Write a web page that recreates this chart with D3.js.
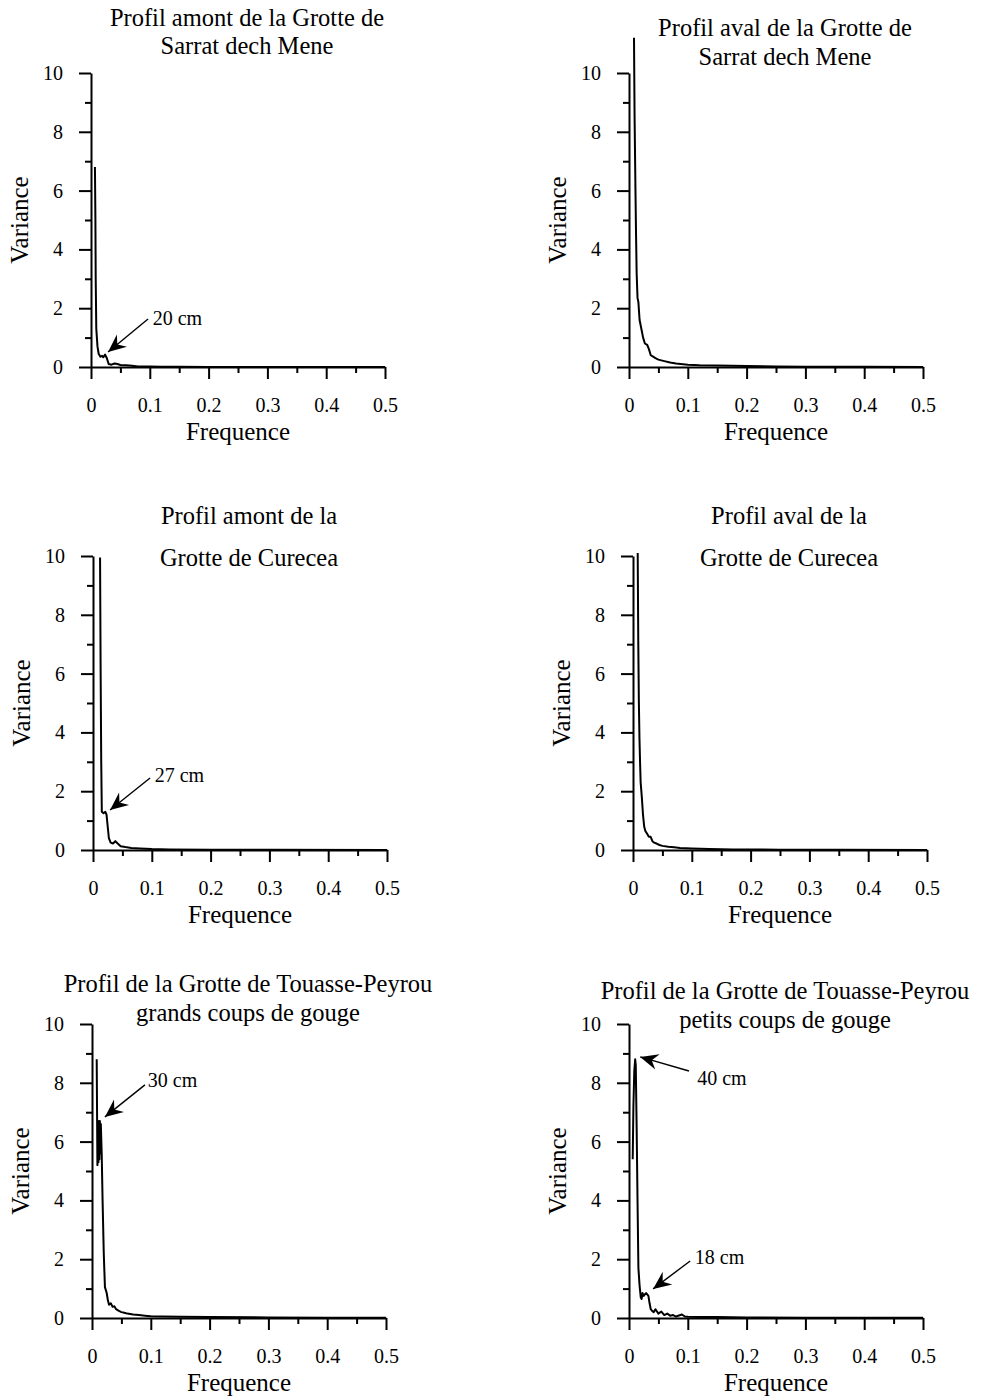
<!DOCTYPE html>
<html>
<head>
<meta charset="utf-8">
<script src="https://cdn.jsdelivr.net/npm/d3@7"></script>
<style>
  body { margin: 0; background: #fff; }
  svg text { font-family: "Liberation Serif", "Times New Roman", serif; fill: #000; }
</style>
</head>
<body>
<svg id="chart" width="992" height="1396"></svg>
<script>
// donnees : [frequence, variance]
const amontSarrat = [[0.0067, 6.8], [0.0075, 5.0], [0.008, 3.0], [0.009, 1.3], [0.011, 0.7], [0.013, 0.45],
  [0.016, 0.35], [0.019, 0.38], [0.021, 0.33], [0.024, 0.42], [0.027, 0.3], [0.030, 0.1], [0.035, 0.08],
  [0.04, 0.12], [0.045, 0.1], [0.05, 0.07], [0.06, 0.06], [0.07, 0.04], [0.08, 0.02], [0.1, 0.015],
  [0.12, 0.01], [0.15, 0.006], [0.2, 0.004], [0.3, 0.002], [0.4, 0.001], [0.5, 0.001]];

const avalSarrat = [[0.0085, 11.2], [0.0095, 8.5], [0.011, 6.0], [0.012, 4.5], [0.013, 3.2], [0.0145, 2.35],
  [0.016, 2.2], [0.018, 1.6], [0.021, 1.3], [0.024, 1.0], [0.027, 0.8], [0.031, 0.75], [0.034, 0.6],
  [0.037, 0.4], [0.041, 0.35], [0.045, 0.3], [0.05, 0.25], [0.06, 0.2], [0.07, 0.15], [0.08, 0.12],
  [0.1, 0.08], [0.12, 0.06], [0.15, 0.05], [0.2, 0.03], [0.25, 0.02], [0.3, 0.01], [0.4, 0.005], [0.5, 0.003]];

const amontCurecea = [[0.012, 9.95], [0.013, 6.0], [0.014, 3.0], [0.015, 1.3], [0.018, 1.25], [0.021, 1.3],
  [0.023, 1.2], [0.025, 0.8], [0.027, 0.4], [0.03, 0.25], [0.034, 0.22], [0.038, 0.3], [0.042, 0.22],
  [0.047, 0.13], [0.055, 0.1], [0.065, 0.07], [0.08, 0.05], [0.1, 0.03], [0.13, 0.02], [0.2, 0.01],
  [0.3, 0.005], [0.5, 0.002]];

const avalCurecea = [[0.008, 10.1], [0.009, 7.0], [0.01, 5.0], [0.011, 3.8], [0.012, 3.0], [0.013, 2.3],
  [0.015, 1.8], [0.017, 1.2], [0.019, 0.8], [0.021, 0.65], [0.024, 0.55], [0.027, 0.45], [0.03, 0.45],
  [0.033, 0.3], [0.036, 0.25], [0.04, 0.22], [0.045, 0.17], [0.05, 0.14], [0.06, 0.11], [0.07, 0.09],
  [0.08, 0.07], [0.1, 0.05], [0.13, 0.03], [0.17, 0.02], [0.25, 0.01], [0.35, 0.005], [0.5, 0.003]];

const touasseGrands = [[0.008, 8.8], [0.0092, 5.2], [0.0102, 6.7], [0.011, 5.3], [0.0118, 6.7], [0.0126, 5.4],
  [0.0134, 6.7], [0.0142, 5.6], [0.015, 6.6], [0.0165, 5.6], [0.018, 4.0], [0.02, 2.2],
  [0.022, 1.05], [0.025, 0.85], [0.027, 0.6], [0.029, 0.45], [0.032, 0.5], [0.035, 0.38], [0.038, 0.4],
  [0.041, 0.3], [0.045, 0.25], [0.05, 0.2], [0.055, 0.18], [0.06, 0.15], [0.07, 0.12], [0.08, 0.1],
  [0.09, 0.08], [0.1, 0.06], [0.12, 0.05], [0.15, 0.04], [0.2, 0.03], [0.3, 0.02], [0.4, 0.01], [0.5, 0.01]];

const touassePetits = [[0.0063, 5.4], [0.0075, 7.2], [0.009, 8.4], [0.0105, 8.8], [0.0115, 8.6], [0.013, 6.5],
  [0.0145, 4.0], [0.016, 1.7], [0.018, 1.1], [0.02, 0.7], [0.0215, 0.65], [0.023, 0.85], [0.025, 0.75],
  [0.027, 0.8], [0.029, 0.85], [0.031, 0.8], [0.033, 0.75], [0.035, 0.5], [0.037, 0.3], [0.039, 0.25],
  [0.042, 0.2], [0.045, 0.3], [0.05, 0.15], [0.055, 0.22], [0.06, 0.1], [0.065, 0.15], [0.07, 0.08],
  [0.075, 0.1], [0.08, 0.05], [0.09, 0.12], [0.095, 0.05], [0.1, 0.04], [0.12, 0.03], [0.15, 0.03],
  [0.2, 0.02], [0.3, 0.01], [0.5, 0.01]];

const titres = [
  ["Profil amont de la Grotte de", "Sarrat dech Mene"],
  ["Profil aval de la Grotte de", "Sarrat dech Mene"],
  ["Profil amont de la", "Grotte de Curecea"],
  ["Profil aval de la", "Grotte de Curecea"],
  ["Profil de la Grotte de Touasse-Peyrou", "grands coups de gouge"],
  ["Profil de la Grotte de Touasse-Peyrou", "petits coups de gouge"]
];

// annotations : texte, position du texte, queue et pointe de la fleche (coordonnees des donnees)
const annotations = [
  [{ texte: "20 cm", pos: [0.105, 1.67], queue: [0.097, 1.63], pointe: [0.029, 0.51] }],
  [],
  [{ texte: "27 cm", pos: [0.105, 2.55], queue: [0.097, 2.45], pointe: [0.029, 1.36] }],
  [],
  [{ texte: "30 cm", pos: [0.095, 8.1], queue: [0.090, 7.93], pointe: [0.022, 6.84] }],
  [{ texte: "40 cm", pos: [0.116, 8.16], queue: [0.102, 8.4], pointe: [0.019, 8.88] },
   { texte: "18 cm", pos: [0.112, 2.07], queue: [0.104, 1.94], pointe: [0.041, 0.99] }]
];

const series = [amontSarrat, avalSarrat, amontCurecea, avalCurecea, touasseGrands, touassePetits];

const xMajeurs = [0, 0.1, 0.2, 0.3, 0.4, 0.5];
const xMineurs = [0.05, 0.15, 0.25, 0.35, 0.45];
const yMajeurs = [0, 2, 4, 6, 8, 10];
const yMineurs = [1, 3, 5, 7, 9];

// mise en page de chaque panneau (pixels)
const cadres = [
  { x0: 91, y0: 367, titreY: [18, 46] },
  { x0: 629, y0: 367, titreY: [28, 57] },
  { x0: 93, y0: 850, titreY: [516, 558] },
  { x0: 633, y0: 850, titreY: [516, 558] },
  { x0: 92, y0: 1318, titreY: [984, 1013] },
  { x0: 629, y0: 1318, titreY: [991, 1020] }
];
const largeur = 294, hauteur = 294;

const svg = d3.select("#chart");

cadres.forEach((c, i) => {
  const g = svg.append("g").attr("transform", `translate(${c.x0},${c.y0 - hauteur})`);

  const x = d3.scaleLinear().domain([0, 0.5]).range([0, largeur]);
  const y = d3.scaleLinear().domain([0, 10]).range([hauteur, 0]);

  // axe des x
  const gx = g.append("g").attr("transform", `translate(0,${hauteur})`);
  gx.call(d3.axisBottom(x).tickValues(xMajeurs).tickSize(12).tickSizeOuter(0).tickPadding(19)
    .tickFormat(d => d === 0 ? "0" : d3.format(".1f")(d)));
  gx.append("g").call(d3.axisBottom(x).tickValues(xMineurs).tickSize(6).tickFormat(""))
    .select(".domain").remove();

  // axe des y
  const gy = g.append("g");
  gy.call(d3.axisLeft(y).tickValues(yMajeurs).tickSize(12).tickSizeOuter(0).tickPadding(16));
  gy.append("g").call(d3.axisLeft(y).tickValues(yMineurs).tickSize(6).tickFormat(""))
    .select(".domain").remove();

  g.selectAll(".domain, .tick line").attr("stroke", "#000").attr("stroke-width", 2);
  g.selectAll(".tick text").attr("font-size", 20).attr("font-family", "Liberation Serif");

  // courbe
  const ligne = d3.line().x(d => x(d[0])).y(d => y(d[1]));
  g.append("path")
    .datum(series[i])
    .attr("d", ligne)
    .attr("fill", "none")
    .attr("stroke", "#000")
    .attr("stroke-width", 2)
    .attr("stroke-linejoin", "round");

  // titres des axes
  g.append("text")
    .attr("x", largeur / 2).attr("y", hauteur + 73)
    .attr("text-anchor", "middle").attr("font-size", 25)
    .text("Frequence");
  g.append("text")
    .attr("transform", `translate(-63,${hauteur / 2}) rotate(-90)`)
    .attr("text-anchor", "middle").attr("font-size", 25)
    .text("Variance");

  // titre du panneau
  titres[i].forEach((t, k) => {
    svg.append("text")
      .attr("x", c.x0 + largeur / 2 + 9).attr("y", c.titreY[k] + 8)
      .attr("text-anchor", "middle").attr("font-size", 24.5)
      .text(t);
  });

  // annotations avec fleches
  annotations[i].forEach(a => {
    const [qx, qy] = [x(a.queue[0]), y(a.queue[1])];
    const [px, py] = [x(a.pointe[0]), y(a.pointe[1])];
    g.append("line")
      .attr("x1", qx).attr("y1", qy).attr("x2", px).attr("y2", py)
      .attr("stroke", "#000").attr("stroke-width", 1.4);
    const angle = Math.atan2(py - qy, px - qx) * 180 / Math.PI;
    g.append("path")
      .attr("d", "M0,0 L-18,-8 L-12,0 L-18,8 Z")
      .attr("transform", `translate(${px},${py}) rotate(${angle})`)
      .attr("fill", "#000");
    g.append("text")
      .attr("x", x(a.pos[0])).attr("y", y(a.pos[1]))
      .attr("dy", "0.35em").attr("font-size", 20)
      .text(a.texte);
  });
});
</script>
</body>
</html>
